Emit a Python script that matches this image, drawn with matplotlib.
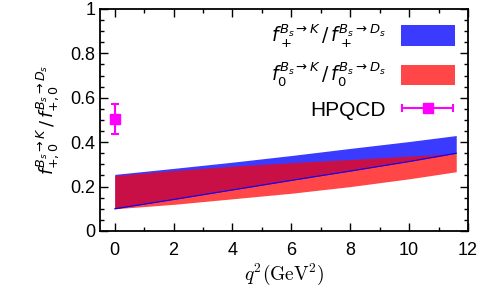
import matplotlib
matplotlib.use('Agg')
import matplotlib.pyplot as plt
from matplotlib.ticker import MultipleLocator
from matplotlib.legend_handler import HandlerErrorbar

plt.rcParams['font.family'] = ['Liberation Sans', 'DejaVu Sans']

# q^2 grid (GeV^2) and band edges
q2 = [0, 2, 4, 6, 8, 10, 11.6]
fplus_lo = [0.100, 0.142, 0.185, 0.228, 0.270, 0.313, 0.350]
fplus_hi = [0.255, 0.282, 0.310, 0.340, 0.372, 0.403, 0.430]
fzero_lo = [0.100, 0.120, 0.145, 0.170, 0.200, 0.235, 0.267]
fzero_hi = [0.250, 0.272, 0.292, 0.308, 0.322, 0.337, 0.350]

# HPQCD point
hp_q2 = [0]
hp_val = [0.505]
hp_err = [0.067]

xticks = [0, 2, 4, 6, 8, 10, 12]
yticks = [0, 0.2, 0.4, 0.6, 0.8, 1]
ytick_labels = ['0', '0.2', '0.4', '0.6', '0.8', '1']

fig = plt.figure(figsize=(4.82, 2.96), dpi=100)
ax = fig.add_axes([0.2075, 0.2196, 0.7635, 0.75])

# bands
bp = ax.fill_between(q2, fplus_lo, fplus_hi, color='blue', alpha=0.77, lw=0, zorder=2)
bz = ax.fill_between(q2, fzero_lo, fzero_hi, color='red', alpha=0.72, lw=0, zorder=3)
ax.plot(q2, fplus_lo, color='blue', lw=0.8, zorder=4)

ax.errorbar(hp_q2, hp_val, yerr=hp_err, fmt='s', color='magenta', ms=7,
            capsize=3, elinewidth=1.5, capthick=1.5, zorder=5)
# proxy (off-screen) so the legend shows a horizontal bar
hp = ax.errorbar([-5], [-5], xerr=[1], fmt='s', color='magenta', ms=7,
                 capsize=3, elinewidth=1.5, capthick=1.5)

leg = ax.legend([bp, bz, hp],
                [r'$f_+^{B_s\to K}\,/\,f_+^{B_s\to D_s}$',
                 r'$f_0^{B_s\to K}\,/\,f_0^{B_s\to D_s}$',
                 'HPQCD'],
                handler_map={hp: HandlerErrorbar(xerr_size=1.35)},
                loc='upper right', frameon=False, markerfirst=False,
                fontsize=13.5, handlelength=2.9, handleheight=1.3,
                labelspacing=0.6, borderaxespad=0.3, handletextpad=0.8)
leg.get_texts()[2].set_fontsize(15)

ax.set_xlim(-0.5, 12)
ax.set_ylim(0, 1)
ax.set_xticks(xticks)
ax.set_yticks(yticks)
ax.set_yticklabels(ytick_labels)
ax.xaxis.set_minor_locator(MultipleLocator(1))
ax.yaxis.set_minor_locator(MultipleLocator(0.05))
ax.tick_params(which='both', direction='in', top=True, right=True, labelsize=13)
ax.tick_params(which='major', length=6, width=1)
ax.tick_params(which='minor', length=3, width=1)
ax.tick_params(axis='x', pad=8)
for s in ax.spines.values():
    s.set_linewidth(1.3)

ax.set_xlabel(r'$q^2(\mathrm{GeV}^2)$', fontsize=14, math_fontfamily='cm', labelpad=2)
ax.set_ylabel(r'$f_{+,0}^{B_s\to K}\,/\,f_{+,0}^{B_s\to D_s}$', fontsize=13, labelpad=6)

fig.savefig('out.png', dpi=100)
